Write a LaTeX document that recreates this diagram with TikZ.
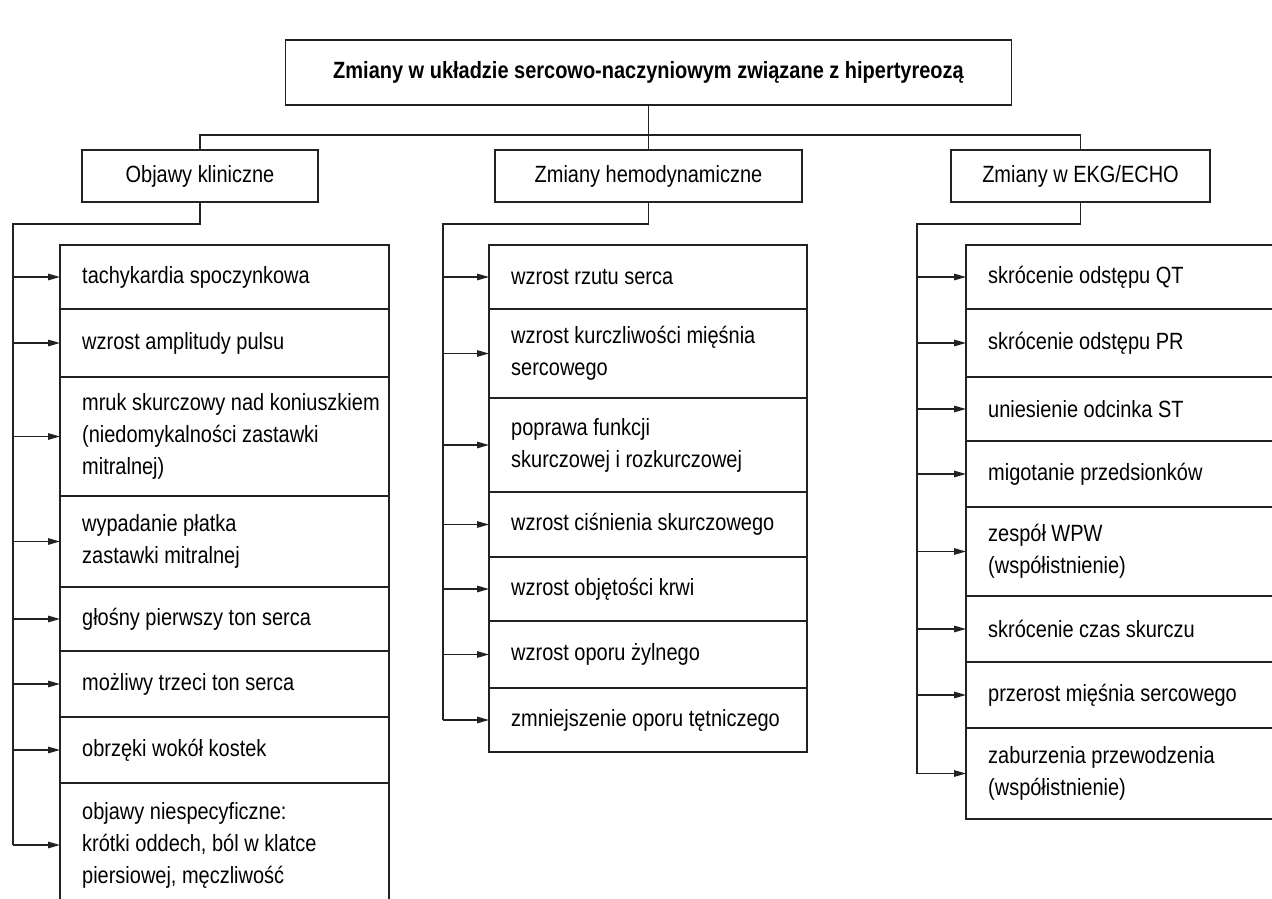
\documentclass[tikz,border=0pt]{standalone}
\usepackage{fontspec}
\setmainfont{Liberation Sans}[FakeStretch=0.85]
\usetikzlibrary{arrows.meta}
\definecolor{ln}{HTML}{222222}
\newcommand\mkitem[6]{%
  \node[itembox, minimum width=#4pt, minimum height=#5pt, anchor=north west] (#1) at (#2,#3) {};
  \node[itemtext, anchor=west] (#1t) at ([xshift=22pt]#1.west) {#6};
}
\tikzset{
  itembox/.style={draw=ln, line width=1.4pt, rectangle, inner sep=0pt, outer sep=0pt},
  itemtext/.style={inner sep=0pt, align=left, font=\fontsize{23.5}{32}\selectfont, text=black},
  catbox/.style={draw=ln, line width=1.4pt, rectangle, inner sep=0pt, outer sep=0pt, font=\fontsize{23.5}{28}\selectfont, text=black},
  conn/.style={draw=ln, line width=1.4pt},
  arr/.style={conn, -{Triangle[length=12pt,width=6.5pt]}}
}
\begin{document}
\begin{tikzpicture}[x=1pt, y=-1pt]
\useasboundingbox (0,0) rectangle (1272,899);
\clip (0,0) rectangle (1272,899);
% title and categories
\node[catbox, minimum width=726pt, minimum height=65pt, font=\fontsize{23.5}{28}\selectfont\bfseries] (title) at (648.5,72.5) {Zmiany w układzie sercowo-naczyniowym związane z hipertyreozą};
\node[catbox, minimum width=236pt, minimum height=52pt] (A) at (200,176) {Objawy kliniczne};
\node[catbox, minimum width=307pt, minimum height=52pt] (B) at (648.5,176) {Zmiany hemodynamiczne};
\node[catbox, minimum width=259pt, minimum height=52pt] (C) at (1080.5,176) {Zmiany w EKG/ECHO};
\coordinate (hbar) at (0,135);
\draw[conn] (title.south) -- (B.north);
\draw[conn] (A.north) -- (A.north |- hbar) -- (C.north |- hbar) -- (C.north);
% left column
\mkitem{l1}{60}{245}{329}{64}{tachykardia spoczynkowa}
\mkitem{l2}{60}{309}{329}{68}{wzrost amplitudy pulsu}
\mkitem{l3}{60}{377}{329}{119}{mruk skurczowy nad koniuszkiem\\(niedomykalności zastawki\\mitralnej)}
\mkitem{l4}{60}{496}{329}{91}{wypadanie płatka\\zastawki mitralnej}
\mkitem{l5}{60}{587}{329}{64}{głośny pierwszy ton serca}
\mkitem{l6}{60}{651}{329}{66}{możliwy trzeci ton serca}
\mkitem{l7}{60}{717}{329}{66}{obrzęki wokół kostek}
\mkitem{l8}{60}{783}{329}{124}{objawy niespecyficzne:\\krótki oddech, ból w klatce\\piersiowej, męczliwość}
% middle column
\mkitem{m1}{489}{245}{318}{64}{wzrost rzutu serca}
\mkitem{m2}{489}{309}{318}{89}{wzrost kurczliwości mięśnia\\sercowego}
\mkitem{m3}{489}{398}{318}{94}{poprawa funkcji\\skurczowej i rozkurczowej}
\mkitem{m4}{489}{492}{318}{65}{wzrost ciśnienia skurczowego}
\mkitem{m5}{489}{557}{318}{64}{wzrost objętości krwi}
\mkitem{m6}{489}{621}{318}{67}{wzrost oporu żylnego}
\mkitem{m7}{489}{688}{318}{64}{zmniejszenie oporu tętniczego}
% right column
\mkitem{r1}{966}{245}{330}{64}{skrócenie odstępu QT}
\mkitem{r2}{966}{309}{330}{68}{skrócenie odstępu PR}
\mkitem{r3}{966}{377}{330}{64}{uniesienie odcinka ST}
\mkitem{r4}{966}{441}{330}{66}{migotanie przedsionków}
\mkitem{r5}{966}{507}{330}{89}{zespół WPW\\(współistnienie)}
\mkitem{r6}{966}{596}{330}{66}{skrócenie czas skurczu}
\mkitem{r7}{966}{662}{330}{66}{przerost mięśnia sercowego}
\mkitem{r8}{966}{728}{330}{91}{zaburzenia przewodzenia\\(współistnienie)}
% spines
\coordinate (ls) at (13,224);
\coordinate (ms) at (443,224);
\coordinate (rs) at (917,224);
\draw[conn] (A.south) |- (ls) -- (ls |- l8.west);
\draw[conn] (B.south) |- (ms) -- (ms |- m7.west);
\draw[conn] (C.south) |- (rs) -- (rs |- r8.west);
\foreach \n in {l1,l2,l3,l4,l5,l6,l7,l8} \draw[arr] (ls |- \n.west) -- (\n.west);
\foreach \n in {m1,m2,m3,m4,m5,m6,m7} \draw[arr] (ms |- \n.west) -- (\n.west);
\foreach \n in {r1,r2,r3,r4,r5,r6,r7,r8} \draw[arr] (rs |- \n.west) -- (\n.west);
\end{tikzpicture}
\end{document}
